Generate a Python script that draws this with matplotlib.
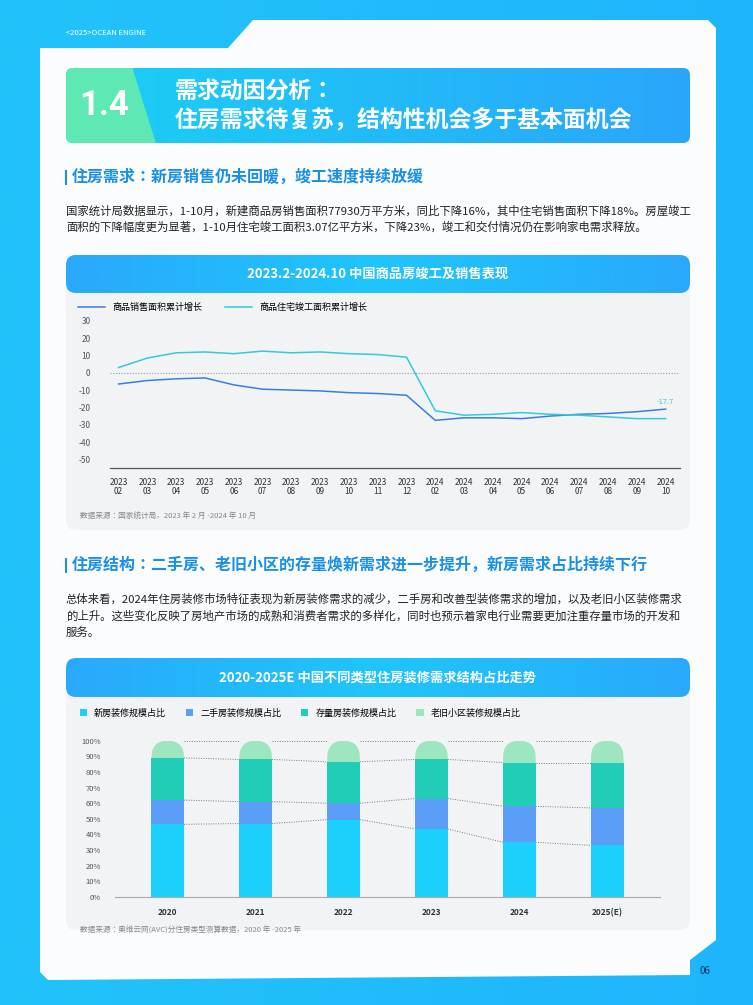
import numpy as np
import matplotlib
matplotlib.use("Agg")
import matplotlib.pyplot as plt
from matplotlib.patches import FancyBboxPatch, Polygon, Rectangle
from matplotlib.colors import LinearSegmentedColormap

plt.rcParams["font.family"] = ["Noto Sans CJK JP"]

# ---------------- data ----------------
line_months = ["2023\n02", "2023\n03", "2023\n04", "2023\n05", "2023\n06", "2023\n07", "2023\n08",
               "2023\n09", "2023\n10", "2023\n11", "2023\n12", "2024\n02", "2024\n03", "2024\n04",
               "2024\n05", "2024\n06", "2024\n07", "2024\n08", "2024\n09", "2024\n10"]
sales_growth = [-6.5, -4.5, -3.5, -3, -7, -9.5, -10, -10.5, -11.5, -12, -13, -27.5, -26, -26,
                -26.5, -25, -24, -23.5, -22.5, -21]
completion_growth = [3, 8.5, 11.5, 12, 11, 12.5, 11.5, 12, 11, 10.5, 9, -22, -24.5, -24, -23,
                     -24, -24.5, -25.5, -26.5, -26.5]
line_names = ["商品销售面积累计增长", "商品住宅竣工面积累计增长"]
line_yticks = [30, 20, 10, 0, -10, -20, -30, -40, -50]
end_label = "-17.7"

bar_years = ["2020", "2021", "2022", "2023", "2024", "2025(E)"]
new_share = [46.5, 47, 49.5, 43.5, 35, 33]
second_share = [15.5, 14, 10.5, 19.5, 23, 24]
stock_share = [27, 27, 26.5, 25, 28, 29]
old_share = [11, 12, 13.5, 12, 14, 14]
bar_names = ["新房装修规模占比", "二手房装修规模占比", "存量房装修规模占比", "老旧小区装修规模占比"]
bar_yticks = [0, 10, 20, 30, 40, 50, 60, 70, 80, 90, 100]

# ---------------- figure ----------------
W, H = 753, 1005
fig = plt.figure(figsize=(W / 100, H / 100), dpi=100)

def ax_px(x, y, w, h):
    return fig.add_axes([x / W, 1 - (y + h) / H, w / W, h / H])

bg = fig.add_axes([0, 0, 1, 1])
bg.set_xlim(0, W); bg.set_ylim(H, 0); bg.axis("off")

grad = np.linspace(0, 1, 256).reshape(1, -1)
cm_page = LinearSegmentedColormap.from_list("p", ["#22c3fb", "#1fb5fb"])
bg.imshow(grad, extent=(0, W, H, 0), cmap=cm_page, aspect="auto", zorder=0)

card = Polygon([(40, 48), (228, 48), (253, 20), (708, 20), (716, 28), (716, 940),
                (690, 960), (690, 975), (48, 980), (40, 972)],
               closed=True, fc="#fbfcfe", ec="none", zorder=1)
bg.add_patch(card)
bg.text(66, 33, "<2025>OCEAN ENGINE", color="white", fontsize=5.5, va="center", zorder=2)
bg.text(700, 971, "06", color="#0d3b66", fontsize=7, va="center", zorder=2)

ban = FancyBboxPatch((66, 68), 624, 75, boxstyle="round,pad=0,rounding_size=7",
                     fc="none", ec="none", zorder=2)
bg.add_patch(ban)
cm_ban = LinearSegmentedColormap.from_list("b", ["#1ad0f5", "#2aa6fb"])
im = bg.imshow(grad, extent=(66, 690, 143, 68), cmap=cm_ban, aspect="auto", zorder=2)
im.set_clip_path(ban)
green = Polygon([(60, 60), (130, 60), (158, 150), (60, 150)], closed=True,
                fc="#5ee8b4", ec="none", zorder=3)
bg.add_patch(green)
green.set_clip_path(ban)
bg.text(104, 105, "1.4", color="white", fontsize=25, ha="center", va="center",
        fontweight="bold", zorder=4, family="Roboto")
bg.text(175, 91, "需求动因分析：", color="white", fontsize=16.5, va="center", fontweight="bold", zorder=4)
bg.text(175, 121, "住房需求待复苏，结构性机会多于基本面机会", color="white", fontsize=16.5,
        va="center", fontweight="bold", zorder=4)

sec_col = "#1a8fe6"
bg.add_patch(Rectangle((65, 170), 2.5, 15, fc=sec_col, ec="none", zorder=2))
bg.text(72, 177, "住房需求：新房销售仍未回暖，竣工速度持续放缓", color=sec_col, fontsize=11.5,
        fontweight="bold", va="center", zorder=2)
para_col = "#222222"
bg.text(66, 211, "国家统计局数据显示，1-10月，新建商品房销售面积77930万平方米，同比下降16%，其中住宅销售面积下降18%。房屋竣工",
        fontsize=8.2, color=para_col, va="center", zorder=2)
bg.text(66, 227, "面积的下降幅度更为显著，1-10月住宅竣工面积3.07亿平方米，下降23%，竣工和交付情况仍在影响家电需求释放。",
        fontsize=8.2, color=para_col, va="center", zorder=2)

def chart_card(y0, y1, title, band_h=38):
    p = FancyBboxPatch((66, y0), 624, y1 - y0, boxstyle="round,pad=0,rounding_size=10",
                       fc="#f2f3f5", ec="none", zorder=1.5)
    bg.add_patch(p)
    hb = FancyBboxPatch((66, y0), 624, band_h, boxstyle="round,pad=0,rounding_size=10",
                        fc="none", ec="none", zorder=2)
    bg.add_patch(hb)
    cm_h = LinearSegmentedColormap.from_list("h", ["#2aa9fb", "#1ec6fb", "#2aa9fb"])
    ih = bg.imshow(grad, extent=(66, 690, y0 + band_h, y0), cmap=cm_h, aspect="auto", zorder=2)
    ih.set_clip_path(hb)
    bg.text(378, y0 + band_h / 2, title, color="white", fontsize=9.5, fontweight="bold",
            ha="center", va="center", zorder=3)

chart_card(255, 530, "2023.2-2024.10 中国商品房竣工及销售表现")
bg.text(80, 517, "数据来源：国家统计局，2023 年 2 月 -2024 年 10 月", fontsize=5.5, color="#888888",
        va="center", zorder=3)

bg.add_patch(Rectangle((65, 558), 2.5, 15, fc=sec_col, ec="none", zorder=2))
bg.text(72, 565, "住房结构：二手房、老旧小区的存量焕新需求进一步提升，新房需求占比持续下行", color=sec_col,
        fontsize=11.5, fontweight="bold", va="center", zorder=2)
for i, t in enumerate(["总体来看，2024年住房装修市场特征表现为新房装修需求的减少，二手房和改善型装修需求的增加，以及老旧小区装修需求",
                       "的上升。这些变化反映了房地产市场的成熟和消费者需求的多样化，同时也预示着家电行业需要更加注重存量市场的开发和",
                       "服务。"]):
    bg.text(66, 599 + 17 * i, t, fontsize=8.2, color=para_col, va="center", zorder=2)

chart_card(658, 930, "2020-2025E 中国不同类型住房装修需求结构占比走势", band_h=39)
bg.text(80, 931, "数据来源：奥维云网(AVC)分住房类型测算数据，2020 年 -2025 年", fontsize=5.5,
        color="#888888", va="center", zorder=3)

# ---------------- line chart ----------------
ax1 = ax_px(110, 300, 570, 168)
ax1.set_facecolor("none")
x = np.arange(len(line_months))
c_sales, c_comp = "#3a7de0", "#36c9d6"
ax1.plot(x, sales_growth, color=c_sales, lw=1.1, label=line_names[0])
ax1.plot(x, completion_growth, color=c_comp, lw=1.1, label=line_names[1])
ax1.axhline(0, color="#999999", lw=0.8, ls=(0, (1, 1.5)))
ax1.text(x[-1], sales_growth[-1] + 2, end_label, color=c_comp, fontsize=5.5, ha="center", va="bottom")
ax1.set_xlim(-0.3, len(x) - 0.5)
ax1.set_ylim(-55, 42)
ax1.set_yticks(line_yticks)
ax1.set_yticklabels([str(v) for v in line_yticks], fontsize=6, color="#555555")
ax1.set_xticks(x)
ax1.set_xticklabels(line_months, fontsize=6, color="#333333", linespacing=1.0)
ax1.tick_params(length=0, pad=7)
ax1.tick_params(axis="y", pad=14)
for s in ["top", "right", "left"]:
    ax1.spines[s].set_visible(False)
ax1.spines["bottom"].set_color("#555555")
ax1.spines["bottom"].set_linewidth(0.9)
ax1.legend(loc="upper left", bbox_to_anchor=(-0.07, 1.03), ncol=2, frameon=False, fontsize=6.5,
           handlelength=3, columnspacing=2.5)

# ---------------- bar chart ----------------
ax2 = ax_px(115, 736, 545, 161)
ax2.set_facecolor("none")
xb = np.arange(len(bar_years))
bw = 0.37
cols = ["#1bd0fb", "#5b9ef8", "#22cdb8", "#9ee6bf"]
n = np.array(new_share); s = np.array(second_share); st = np.array(stock_share); o = np.array(old_share)
ax2.bar(xb, n, bw, color=cols[0], label=bar_names[0], zorder=2)
ax2.bar(xb, s, bw, bottom=n, color=cols[1], label=bar_names[1], zorder=2)
ax2.bar(xb, st, bw, bottom=n + s, color=cols[2], label=bar_names[2], zorder=2)
old_bars = ax2.bar(xb, o, bw, bottom=n + s + st, color=cols[3], label=bar_names[3], zorder=2)
for b in old_bars:
    clip = FancyBboxPatch((b.get_x(), b.get_y() - 20), b.get_width(), b.get_height() + 20,
                          boxstyle="round,pad=0,rounding_size=0.185", mutation_aspect=58,
                          transform=ax2.transData, fc="none", ec="none")
    ax2.add_patch(clip)
    b.set_clip_path(clip)
for tops in [n, n + s, n + s + st, n + s + st + o]:
    for i in range(len(xb) - 1):
        ax2.plot([xb[i] + bw / 2, xb[i + 1] - bw / 2], [tops[i], tops[i + 1]],
                 color="#777777", lw=0.7, ls=(0, (1, 1.5)), zorder=1)
ax2.set_xlim(-0.6, len(xb) - 0.4)
ax2.set_ylim(0, 103)
ax2.set_yticks(bar_yticks)
ax2.set_yticklabels([f"{v}%" for v in bar_yticks], fontsize=5.5, color="#555555")
ax2.set_xticks(xb)
ax2.set_xticklabels(bar_years, fontsize=6, fontweight="bold", color="#333333")
ax2.tick_params(length=0, pad=8)
ax2.tick_params(axis="y", pad=10)
for sp in ["top", "right", "left"]:
    ax2.spines[sp].set_visible(False)
ax2.spines["bottom"].set_color("#aaaaaa")
ax2.spines["bottom"].set_linewidth(0.8)
ax2.legend(loc="upper left", bbox_to_anchor=(-0.08, 1.22), ncol=4, frameon=False, fontsize=6.5,
           handlelength=0.8, handleheight=0.8, columnspacing=2.2)

fig.savefig("out.png", dpi=100)
